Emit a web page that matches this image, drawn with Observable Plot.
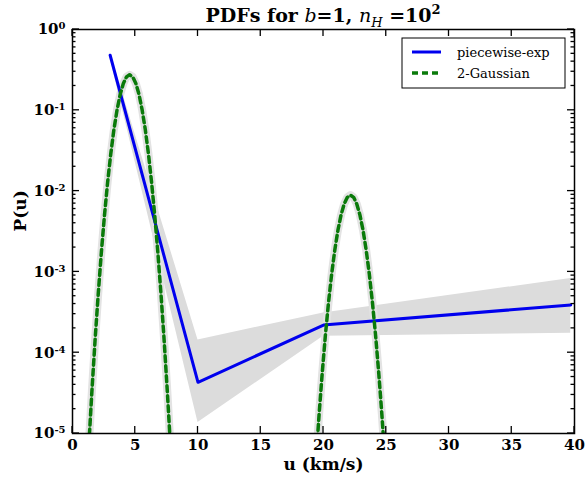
<!DOCTYPE html>
<html><head><meta charset="utf-8">
<script src="https://cdn.jsdelivr.net/npm/d3@7"></script>
<script src="https://cdn.jsdelivr.net/npm/@observablehq/plot@0.6"></script>
<style>
html,body{margin:0;padding:0;background:#fff;}
#chart{position:relative;width:585px;height:481px;}
</style></head><body><div id="chart"></div>
<script>
// ---- data ----
const seriesNames = ["piecewise-exp", "2-Gaussian"];
const pieceU = [3.0, 10, 20, 39.7];
const pieceP = [0.48, 4.3e-5, 2.2e-4, 3.9e-4];
const bandLo = [0.44, 1.37e-5, 1.6e-4, 1.74e-4];
const bandHi = [0.52, 1.44e-4, 3.1e-4, 8.3e-4];

const gauss1U = [1.3, 1.55, 1.8, 2.05, 2.3, 2.55, 2.8, 3.05, 3.3, 3.55, 3.8, 4.05, 4.3, 4.55,
                 4.8, 5.05, 5.3, 5.55, 5.8, 6.05, 6.3, 6.55, 6.8, 7.05, 7.3, 7.55, 7.8];
const gauss1P = [7.2e-6, 3.42e-5, 1.44e-4, 5.33e-4, 1.75e-3, 5.06e-3, 0.0129, 0.029, 0.0578, 0.101, 0.157, 0.214, 0.259, 0.275,
                 0.259, 0.214, 0.157, 0.101, 0.0578, 0.029, 0.0129, 5.06e-3, 1.75e-3, 5.33e-4, 1.44e-4, 3.42e-5, 7.2e-6];
const gauss2U = [19.4, 19.65, 19.9, 20.15, 20.4, 20.65, 20.9, 21.15, 21.4, 21.65, 21.9, 22.15,
                 22.4, 22.65, 22.9, 23.15, 23.4, 23.65, 23.9, 24.15, 24.4, 24.65, 24.9];
const gauss2P = [4.66e-6, 1.73e-5, 5.66e-5, 1.64e-4, 4.18e-4, 9.4e-4, 1.87e-3, 3.28e-3, 5.08e-3, 6.94e-3, 8.37e-3, 8.91e-3,
                 8.37e-3, 6.94e-3, 5.08e-3, 3.28e-3, 1.87e-3, 9.4e-4, 4.18e-4, 1.64e-4, 5.66e-5, 1.73e-5, 4.66e-6];

const xTicks = [0, 5, 10, 15, 20, 25, 30, 35, 40];
const yTicks = [1e-5, 1e-4, 1e-3, 1e-2, 1e-1, 1];
const yMinor = [];
for (let e = -5; e < 0; e++) for (let k = 2; k <= 9; k++) yMinor.push(k * Math.pow(10, e));

// ---- tables ----
const piece = pieceU.map((u, i) => ({u, p: pieceP[i]}));
const band = pieceU.map((u, i) => ({u, lo: bandLo[i], hi: bandHi[i]}));
const gauss = [
  ...gauss1U.map((u, i) => ({u, p: gauss1P[i], peak: 1})),
  ...gauss2U.map((u, i) => ({u, p: gauss2P[i], peak: 2}))
];

const W = 585, H = 481, mL = 72, mR = 11, mT = 29, mB = 48;
const serif = "'DejaVu Serif', serif";
const blue = "#0000ee", green = "#0a7a0a";

const plot = Plot.plot({
  width: W, height: H,
  marginLeft: mL, marginRight: mR, marginTop: mT, marginBottom: mB,
  style: {fontFamily: serif, fontSize: "15px", fontWeight: "bold", color: "#000", background: "#fff", overflow: "visible"},
  x: {domain: [0, 40], label: null},
  y: {type: "log", domain: [1e-5, 1], label: null},
  marks: [
    Plot.areaY(band, {x: "u", y1: "lo", y2: "hi", fill: "#dcdcdc", clip: true}),
    Plot.line(gauss, {x: "u", y: "p", z: "peak", stroke: "#e3e3e3", strokeWidth: 8, clip: true}),
    Plot.line(piece, {x: "u", y: "p", stroke: blue, strokeWidth: 3, clip: true}),
    Plot.line(gauss, {x: "u", y: "p", z: "peak", stroke: green, strokeWidth: 3.5, strokeDasharray: "6,4", clip: true}),
    Plot.axisX(xTicks, {anchor: "bottom", tickSize: 0, tickPadding: 6, fontSize: 15, label: null, tickFormat: d => String(d)}),
    Plot.axisY(yTicks, {anchor: "left", tickSize: 0, tickPadding: 7, fontSize: 15, label: null, tickFormat: d => String(Math.round(Math.log10(d)))}),
    Plot.frame({stroke: "#000", strokeWidth: 1.5}),
    Plot.text(["P(u)"], {frameAnchor: "left", dx: -52, rotate: -90, fontSize: 17, fontWeight: "bold"}),
    Plot.text(["u (km/s)"], {frameAnchor: "bottom", dy: 36, fontSize: 17, fontWeight: "bold"})
  ]
});

const svg = d3.select(plot);
const sx = plot.scale("x"), sy = plot.scale("y");

// inward ticks (matplotlib style), positioned through Plot's own scales
const tg = svg.append("g").attr("class", "mpl-ticks");
const x0 = mL, x1 = W - mR, y0 = mT, y1 = H - mB;
const tick = (xa, ya, xb, yb) => tg.append("path")
  .attr("d", `M${xa},${ya}L${xb},${yb}`)
  .style("stroke", "#000").style("stroke-width", "1.3px").style("fill", "none");
xTicks.forEach(v => {
  const x = sx.apply(v);
  tick(x, y1, x, y1 - 7);
  tick(x, y0, x, y0 + 7);
});
yTicks.forEach(v => {
  const y = sy.apply(v);
  tick(x0, y, x0 + 7, y);
  tick(x1, y, x1 - 7, y);
});
yMinor.forEach(v => {
  const y = sy.apply(v);
  tick(x0, y, x0 + 3.5, y);
  tick(x1, y, x1 - 3.5, y);
});

// y tick labels as 10^k
svg.selectAll('g[aria-label="y-axis tick label"] text').each(function () {
  const t = d3.select(this);
  const e = t.text();
  if (!e) return;
  t.text("");
  t.append("tspan").text("10");
  t.append("tspan").attr("dy", "-0.5em").attr("font-size", "10px").text(e);
});

// title
const title = svg.append("text")
  .attr("x", (mL + W - mR) / 2).attr("y", 22)
  .attr("text-anchor", "middle").attr("font-family", serif)
  .attr("font-size", 19).attr("font-weight", "bold").attr("fill", "#000");
title.append("tspan").text("PDFs for ");
title.append("tspan").attr("font-style", "italic").attr("font-weight", "normal").text("b");
title.append("tspan").text("=1, ");
title.append("tspan").attr("font-style", "italic").attr("font-weight", "normal").text("n");
title.append("tspan").attr("font-style", "italic").attr("font-weight", "normal").attr("font-size", 13).attr("dy", 5).text("H");
title.append("tspan").attr("dy", -5).text(" =10");
title.append("tspan").attr("font-size", 13).attr("dy", -8).text("2");

// legend
const lg = svg.append("g").attr("font-family", serif).attr("font-size", 13)
  .attr("font-weight", "normal").attr("text-anchor", "start");
lg.append("rect").attr("x", 402).attr("y", 38).attr("width", 163).attr("height", 50)
  .attr("fill", "#fff").attr("stroke", "#000").attr("stroke-width", 1);
lg.append("line").attr("x1", 412).attr("x2", 441).attr("y1", 52).attr("y2", 52)
  .attr("stroke", blue).attr("stroke-width", 3);
lg.append("text").attr("x", 457).attr("y", 57).text(seriesNames[0]);
lg.append("line").attr("x1", 412).attr("x2", 441).attr("y1", 73).attr("y2", 73)
  .attr("stroke", green).attr("stroke-width", 3.5).attr("stroke-dasharray", "6,4");
lg.append("text").attr("x", 457).attr("y", 78).text(seriesNames[1]);

document.getElementById("chart").appendChild(plot);
</script></body></html>
